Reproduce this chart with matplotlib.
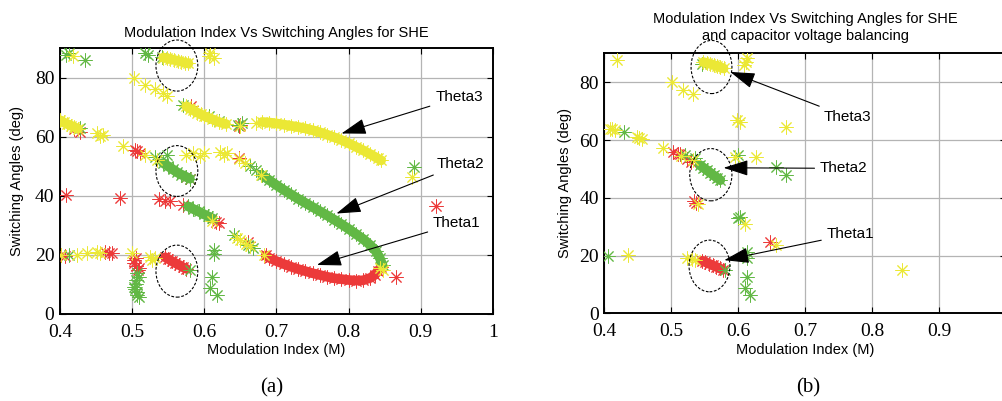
import matplotlib
matplotlib.use("Agg")
import matplotlib.pyplot as plt
from matplotlib.patches import Ellipse

RED = '#ec3a3a'
GREEN = '#62b845'
YELLOW = '#ebe835'

# ---- panel (a): SHE only ----
# isolated solutions (m, angle)
a_red = [(0.409, 40.3), (0.483, 39.2), (0.537, 38.8), (0.545, 38.4), (0.553, 38.2),
         (0.571, 36.9), (0.62, 30.7), (0.616, 31.2), (0.428, 61.7), (0.42, 62.5),
         (0.504, 55.6), (0.511, 54.5), (0.507, 55.2), (0.65, 64.1), (0.648, 63.5),
         (0.648, 52.8), (0.581, 70.3), (0.402, 20.0), (0.407, 19.5), (0.463, 21.1),
         (0.468, 20.8), (0.472, 20.8), (0.502, 18.3), (0.505, 16.1), (0.508, 14.8),
         (0.503, 17.2), (0.506, 19.0), (0.509, 15.5), (0.865, 12.4), (0.921, 36.4),
         (0.58, 45.8), (0.575, 46.5), (0.66, 24.5)]
a_green = [(0.409, 87.8), (0.413, 88.2), (0.435, 86.1), (0.518, 88.4), (0.522, 87.8),
           (0.542, 87.0), (0.428, 62.9), (0.571, 70.8), (0.606, 66.9), (0.62, 65.2),
           (0.652, 64.6), (0.646, 64.0), (0.532, 53.3), (0.548, 53.9), (0.671, 48.8),
           (0.663, 50.0), (0.412, 20.0), (0.58, 14.9), (0.507, 13.8), (0.505, 11.5),
           (0.509, 12.6), (0.502, 9.3), (0.506, 10.3), (0.507, 7.6), (0.504, 8.4),
           (0.507, 6.4), (0.51, 5.8), (0.613, 21.7), (0.613, 20.2), (0.611, 12.6),
           (0.608, 8.7), (0.618, 6.4), (0.891, 49.9), (0.641, 26.8), (0.66, 23.5),
           (0.668, 22.3)]
a_yellow = [(0.418, 87.2), (0.608, 88.4), (0.613, 86.7), (0.606, 87.2), (0.502, 79.9),
            (0.518, 77.6), (0.532, 76.2), (0.543, 74.8), (0.548, 73.9), (0.451, 61.2),
            (0.456, 60.1), (0.46, 60.5), (0.488, 56.7), (0.518, 53.9), (0.534, 52.2),
            (0.585, 54.5), (0.599, 54.5), (0.594, 53.5), (0.622, 55.0), (0.632, 54.5),
            (0.627, 53.8), (0.574, 53.9), (0.65, 63.6), (0.671, 64.6), (0.648, 52.3),
            (0.657, 51.1), (0.678, 47.1), (0.401, 20.0), (0.423, 20.0), (0.437, 20.6),
            (0.451, 21.1), (0.455, 20.5), (0.50, 20.6), (0.525, 19.4), (0.532, 18.9),
            (0.528, 18.2), (0.611, 31.5), (0.645, 25.8), (0.65, 25.0), (0.658, 23.8),
            (0.664, 23.0), (0.888, 46.5), (0.844, 15.5), (0.848, 15.0), (0.683, 20.0)]

# dense solution branches (m, angle)
a_red_dense = [
    [(0.546, 19.2), (0.55, 18.6), (0.555, 17.9), (0.56, 17.2), (0.565, 16.6),
     (0.57, 15.9), (0.575, 15.3)],
    [(0.685, 19.8), (0.69, 19.0), (0.70, 17.9), (0.71, 16.9), (0.72, 16.0),
     (0.73, 15.2), (0.74, 14.5), (0.75, 13.8), (0.76, 13.2), (0.77, 12.6),
     (0.78, 12.1), (0.79, 11.8), (0.80, 11.5), (0.81, 11.3), (0.82, 11.4),
     (0.83, 12.2), (0.836, 13.2), (0.841, 14.6), (0.845, 16.0)],
]
a_green_dense = [
    [(0.543, 51.1), (0.55, 50.0), (0.556, 49.0), (0.562, 48.0), (0.568, 47.2),
     (0.574, 46.5), (0.58, 45.8)],
    [(0.578, 36.4), (0.585, 35.5), (0.592, 34.7), (0.599, 33.8), (0.605, 33.1),
     (0.611, 32.4)],
    [(0.68, 47.0), (0.69, 45.3), (0.70, 43.6), (0.71, 42.0), (0.72, 40.5),
     (0.73, 39.0), (0.74, 37.6), (0.75, 36.2), (0.76, 34.8), (0.77, 33.4),
     (0.78, 31.9), (0.79, 30.4), (0.80, 28.8), (0.81, 27.1), (0.82, 25.4),
     (0.83, 23.3), (0.838, 21.2), (0.843, 19.0), (0.847, 16.5)],
]
a_yellow_dense = [
    [(0.400, 65.6), (0.405, 64.9), (0.41, 64.3), (0.415, 63.8), (0.42, 63.2),
     (0.425, 62.7)],
    [(0.543, 86.8), (0.548, 86.6), (0.553, 86.3), (0.558, 86.0), (0.563, 85.7),
     (0.568, 85.4), (0.573, 85.1), (0.578, 84.8)],
    [(0.575, 70.3), (0.58, 69.5), (0.585, 68.9), (0.59, 68.2), (0.595, 67.6),
     (0.60, 67.0), (0.61, 66.0), (0.62, 65.0), (0.63, 64.3)],
    [(0.68, 65.0), (0.69, 64.8), (0.70, 64.5), (0.71, 64.1), (0.72, 63.7),
     (0.73, 63.3), (0.74, 62.8), (0.75, 62.2), (0.76, 61.5), (0.77, 60.7),
     (0.78, 59.8), (0.79, 58.9), (0.80, 57.8), (0.81, 56.6), (0.82, 55.4),
     (0.83, 54.1), (0.84, 52.7), (0.845, 52.0)],
]

# ---- panel (b): SHE + capacitor voltage balancing ----
b_red = [(0.503, 55.9), (0.51, 55.3), (0.513, 55.1), (0.529, 52.5), (0.524, 53.3),
         (0.537, 38.3), (0.534, 39.0), (0.648, 24.8)]
b_green = [(0.546, 86.5), (0.429, 62.8), (0.521, 54.8), (0.536, 53.8), (0.6, 55.0),
           (0.657, 50.7), (0.671, 47.9), (0.6, 32.9), (0.602, 33.5), (0.406, 19.8),
           (0.58, 15.0), (0.613, 21.3), (0.613, 19.0), (0.613, 12.5), (0.61, 8.7),
           (0.617, 6.3)]
b_yellow = [(0.419, 87.6), (0.611, 87.1), (0.608, 85.9), (0.613, 88.3), (0.501, 80.1),
            (0.518, 77.3), (0.533, 76.1), (0.598, 66.9), (0.602, 66.3), (0.671, 64.4),
            (0.409, 64.0), (0.416, 63.4), (0.412, 63.8), (0.449, 61.1), (0.456, 60.2),
            (0.452, 60.6), (0.488, 57.1), (0.515, 54.6), (0.533, 53.0), (0.595, 54.2),
            (0.627, 54.2), (0.54, 38.0), (0.61, 31.1), (0.657, 23.6), (0.436, 20.2),
            (0.524, 19.0), (0.535, 18.4), (0.531, 18.8), (0.844, 15.0)]
b_red_dense = [[(0.546, 18.2), (0.551, 17.7), (0.556, 17.2), (0.562, 16.6),
                (0.567, 16.1), (0.572, 15.6), (0.577, 15.1)]]
b_green_dense = [[(0.543, 51.3), (0.548, 50.4), (0.553, 49.6), (0.558, 48.7),
                  (0.563, 47.8), (0.568, 47.0), (0.573, 46.1)]]
b_yellow_dense = [[(0.548, 87.0), (0.553, 86.7), (0.558, 86.4), (0.563, 86.0),
                   (0.568, 85.6), (0.573, 85.2), (0.578, 84.8)]]

a_x_ticks = [0.4, 0.5, 0.6, 0.7, 0.8, 0.9, 1.0]
a_x_labels = ['0.4', '0.5', '0.6', '0.7', '0.8', '0.9', '1']
b_x_ticks = [0.4, 0.5, 0.6, 0.7, 0.8, 0.9]
b_x_labels = ['0.4', '0.5', '0.6', '0.7', '0.8', '0.9']
y_ticks = [0, 20, 40, 60, 80]

SANS = 'Liberation Sans'
SERIF = 'Liberation Serif'
STAR = (8, 2, 0)


def draw_points(ax, pts, color):
    xs = [p[0] for p in pts]
    ys = [p[1] for p in pts]
    ax.plot(xs, ys, linestyle='none', marker=STAR, ms=10, mew=0.7,
            color=color, zorder=3)


def draw_dense(ax, branches, color):
    for pts in branches:
        xs = [p[0] for p in pts]
        ys = [p[1] for p in pts]
        ax.plot(xs, ys, '-', lw=7, color=color, solid_capstyle='round',
                zorder=3)
        ax.plot(xs, ys, linestyle='none', marker=STAR, ms=10, mew=0.7,
                color=color, zorder=3)


def setup_axes(ax, xticks, xlabels):
    ax.set_xlim(0.4, 1.0)
    ax.set_ylim(0, 90)
    ax.set_xticks(xticks)
    ax.set_xticklabels(xlabels, fontfamily=SERIF, fontsize=14)
    ax.set_yticks(y_ticks)
    ax.set_yticklabels([str(t) for t in y_ticks], fontfamily=SERIF, fontsize=14)
    ax.tick_params(direction='in', top=True, right=True, length=4, width=0.8)
    ax.tick_params(axis='x', pad=7)
    ax.tick_params(axis='y', pad=4)
    ax.grid(True, color='#b4b4b4', lw=0.9)
    ax.set_axisbelow(True)
    for s in ax.spines.values():
        s.set_linewidth(1.4)
    ax.set_xlabel('Modulation Index (M)', fontfamily=SANS, fontsize=10.5,
                  labelpad=2)
    ax.set_ylabel('Switching Angles (deg)', fontfamily=SANS, fontsize=10.5)


def arrow(ax, text, text_xy, tip_xy, ha='left'):
    ax.annotate(text, xy=tip_xy, xytext=text_xy, fontfamily=SANS, fontsize=11,
                va='center', ha=ha, zorder=5,
                arrowprops=dict(arrowstyle='-|>,head_length=1.1,head_width=0.35',
                                color='black', lw=0.8, mutation_scale=14,
                                shrinkA=2, shrinkB=0))


def ellipse(ax, cx, cy, w, h):
    ax.add_patch(Ellipse((cx, cy), w, h, fill=False, ls=(0, (2.5, 1.5)),
                         lw=0.8, color='black', clip_on=False, zorder=4))


fig = plt.figure(figsize=(10.03, 4.01), dpi=100)
ax1 = fig.add_axes([0.0598, 0.217, 0.4317, 0.663])
ax2 = fig.add_axes([0.6025, 0.2187, 0.4008, 0.648])

for ax, red, green, yellow, rd, gd, yd in [
        (ax1, a_red, a_green, a_yellow, a_red_dense, a_green_dense, a_yellow_dense),
        (ax2, b_red, b_green, b_yellow, b_red_dense, b_green_dense, b_yellow_dense)]:
    draw_points(ax, red, RED)
    draw_dense(ax, rd, RED)
    draw_points(ax, green, GREEN)
    draw_dense(ax, gd, GREEN)
    draw_points(ax, yellow, YELLOW)
    draw_dense(ax, yd, YELLOW)

setup_axes(ax1, a_x_ticks, a_x_labels)
setup_axes(ax2, b_x_ticks, b_x_labels)
ax1.yaxis.set_label_coords(-0.083, 0.5)
ax2.yaxis.set_label_coords(-0.08, 0.5)

ax1.set_title('Modulation Index Vs Switching Angles for SHE', fontfamily=SANS,
              fontsize=10.5, pad=8)
ax2.set_title('Modulation Index Vs Switching Angles for SHE\n'
              'and capacitor voltage balancing', fontfamily=SANS,
              fontsize=10.5, pad=10, linespacing=1.2)

ellipse(ax1, 0.562, 84.1, 0.058, 17.3)
ellipse(ax1, 0.562, 48.4, 0.058, 17.2)
ellipse(ax1, 0.562, 14.5, 0.058, 17.6)
ellipse(ax2, 0.560, 85.3, 0.061, 18.4)
ellipse(ax2, 0.559, 48.0, 0.063, 18.1)
ellipse(ax2, 0.557, 16.4, 0.061, 17.9)

arrow(ax1, 'Theta3', (0.92, 73.4), (0.79, 61.1))
arrow(ax1, 'Theta2', (0.922, 50.7), (0.783, 34.0))
arrow(ax1, 'Theta1', (0.917, 30.7), (0.756, 16.6))
arrow(ax2, 'Theta3', (0.727, 68.0), (0.588, 83.6))
arrow(ax2, 'Theta2', (0.722, 50.2), (0.578, 50.4))
arrow(ax2, 'Theta1', (0.732, 27.4), (0.579, 18.4))

fig.text(272 / 1003, 1 - 388 / 401, '(a)', fontfamily=SERIF, fontsize=15,
         ha='center', va='center')
fig.text(808 / 1003, 1 - 388 / 401, '(b)', fontfamily=SERIF, fontsize=15,
         ha='center', va='center')

fig.savefig('out.png', dpi=100)
